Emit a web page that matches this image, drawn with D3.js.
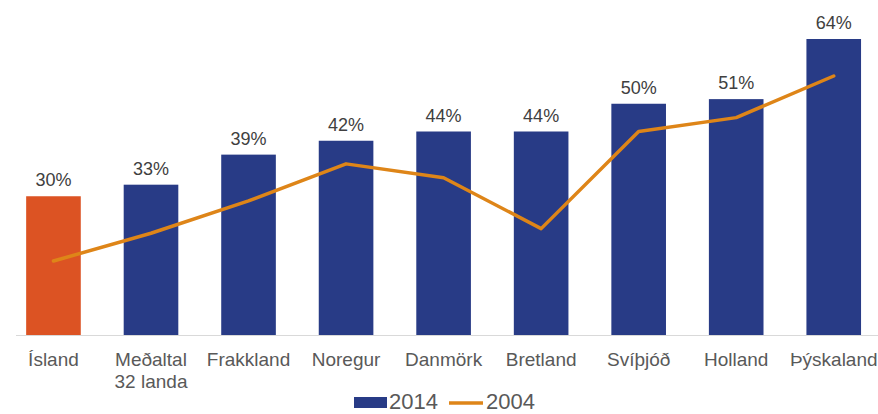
<!DOCTYPE html>
<html>
<head>
<meta charset="utf-8">
<script src="https://cdn.jsdelivr.net/npm/d3@7"></script>
<style>
  html, body { margin: 0; padding: 0; background: #fff; }
  svg { display: block; font-family: "Liberation Sans", Arial, sans-serif; }
</style>
</head>
<body>
<svg id="chart" width="878" height="414"></svg>
<script>
// Data
const categories = ['Ísland', 'Meðaltal\n32 landa', 'Frakkland', 'Noregur', 'Danmörk',
  'Bretland', 'Svíþjóð', 'Holland', 'Þýskaland'];
const values2014 = [30, 32.5, 39, 42, 44, 44, 50, 51, 64];
const values2004 = [16, 22, 29, 37, 34, 23, 44, 47, 56];
const seriesNames = ['2014', '2004'];

const barColor = '#283B86';
const highlightColor = '#DC5323';
const lineColor = '#DE8518';
const textColor = '#404040';
const axisTextColor = '#595959';

const svg = d3.select('#chart');

const x = d3.scaleBand()
  .domain(categories)
  .range([4.7, 882.5])
  .paddingInner(0.44)
  .paddingOuter(0.22);

const y = d3.scaleLinear()
  .domain([0, 64])
  .range([335, 39]);

// baseline
svg.append('line')
  .attr('x1', 16)
  .attr('x2', 878)
  .attr('y1', y(0) + 0.5)
  .attr('y2', y(0) + 0.5)
  .attr('stroke', '#d9d9d9')
  .attr('stroke-width', 1);

// bars
svg.selectAll('.bar')
  .data(categories)
  .enter()
  .append('rect')
  .attr('class', 'bar')
  .attr('x', (d) => x(d))
  .attr('width', x.bandwidth())
  .attr('y', (d, i) => y(values2014[i]))
  .attr('height', (d, i) => y(0) - y(values2014[i]))
  .attr('fill', (d, i) => i === 0 ? highlightColor : barColor);

// value labels
svg.selectAll('.val')
  .data(categories)
  .enter()
  .append('text')
  .attr('class', 'val')
  .attr('x', (d) => x(d) + x.bandwidth() / 2)
  .attr('y', (d, i) => y(values2014[i]) - 10)
  .attr('text-anchor', 'middle')
  .attr('font-size', 18)
  .attr('fill', textColor)
  .text((d, i) => `${Math.round(values2014[i])}%`);

// 2004 line
const line = d3.line()
  .x((d, i) => x(categories[i]) + x.bandwidth() / 2)
  .y((d) => y(d));

svg.append('path')
  .datum(values2004)
  .attr('d', line)
  .attr('fill', 'none')
  .attr('stroke', lineColor)
  .attr('stroke-width', 3.5)
  .attr('stroke-linejoin', 'round')
  .attr('stroke-linecap', 'round');

// category labels
const xAxis = d3.axisBottom(x).tickSize(0).tickFormat('');
const axisG = svg.append('g')
  .attr('transform', `translate(0,${y(0)})`)
  .call(xAxis);
axisG.select('.domain').remove();

axisG.selectAll('.tick')
  .append('text')
  .attr('text-anchor', 'middle')
  .attr('font-size', 19)
  .attr('fill', axisTextColor)
  .each(function(d) {
    // eslint-disable-next-line no-invalid-this
    const t = d3.select(this);
    d.split('\n').forEach((p, j) => {
      t.append('tspan')
        .attr('x', 0)
        .attr('y', 31 + j * 21.5)
        .text(p);
    });
  });

// legend
const legend = svg.append('g').attr('class', 'legend');
legend.append('rect')
  .attr('x', 354)
  .attr('y', 397)
  .attr('width', 33)
  .attr('height', 11)
  .attr('fill', barColor);
legend.append('text')
  .attr('x', 389)
  .attr('y', 408.5)
  .attr('font-size', 22)
  .attr('fill', axisTextColor)
  .text(seriesNames[0]);
legend.append('line')
  .attr('x1', 449)
  .attr('x2', 483)
  .attr('y1', 403)
  .attr('y2', 403)
  .attr('stroke', lineColor)
  .attr('stroke-width', 3.5);
legend.append('text')
  .attr('x', 486)
  .attr('y', 408.5)
  .attr('font-size', 22)
  .attr('fill', axisTextColor)
  .text(seriesNames[1]);
</script>
</body>
</html>
